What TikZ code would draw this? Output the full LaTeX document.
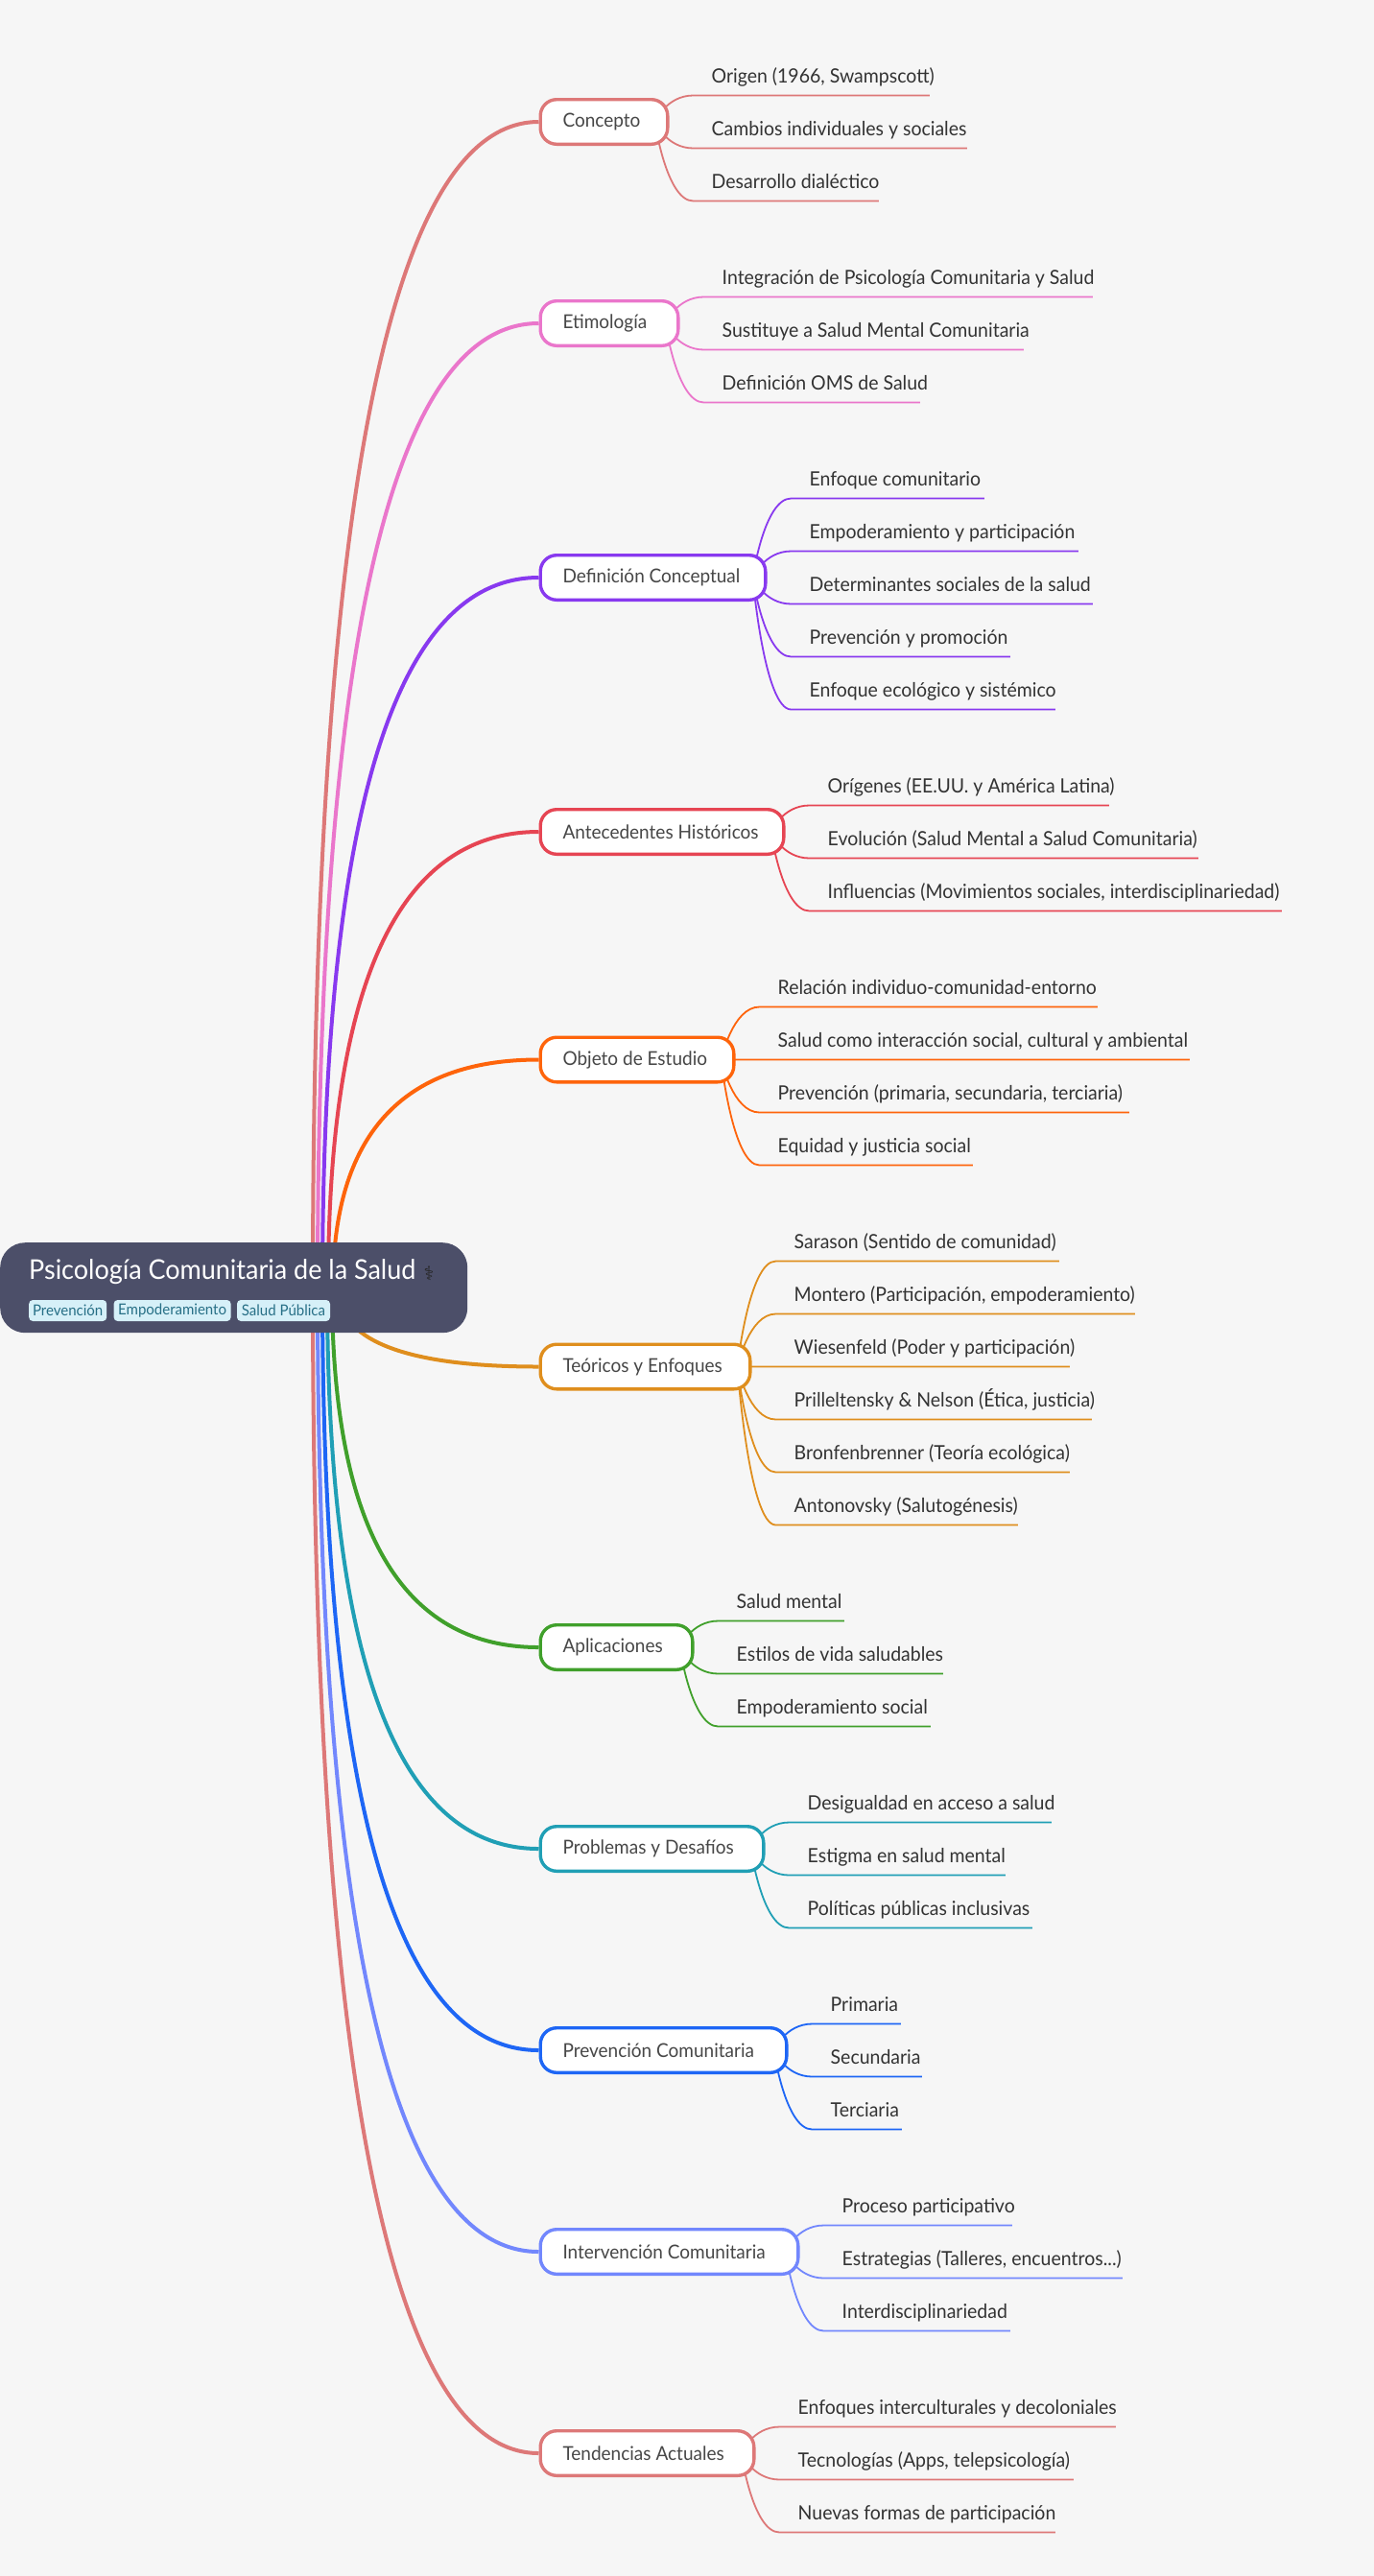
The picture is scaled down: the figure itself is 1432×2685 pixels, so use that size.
\documentclass[tikz,border=0pt]{standalone}
\usepackage{xcolor}
\usepackage{fontspec}
\setmainfont[FakeStretch=0.95]{Lato}
\newfontfamily\symfont{DejaVu Sans}
\usetikzlibrary{positioning, calc, backgrounds}
\definecolor{pagebg}{HTML}{F6F6F6}
\definecolor{rootbg}{HTML}{4C4F69}
\definecolor{tagbg}{HTML}{D6F0F8}
\definecolor{tagtext}{HTML}{276F86}
\definecolor{flamingo}{HTML}{DD7878}
\definecolor{pink}{HTML}{EA76CB}
\definecolor{mauve}{HTML}{8839EF}
\definecolor{maroon}{HTML}{E64553}
\definecolor{peach}{HTML}{FE640B}
\definecolor{amber}{HTML}{DF8E1D}
\definecolor{leafgreen}{HTML}{40A02B}
\definecolor{sapphire}{HTML}{209FB5}
\definecolor{royal}{HTML}{1E66F5}
\definecolor{lavender}{HTML}{7287FD}
\tikzset{
  rootbox/.style={fill=rootbg, rounded corners=26pt, inner sep=0pt, minimum width=487pt, minimum height=94pt},
  tagbox/.style={fill=tagbg, text=tagtext, rounded corners=4pt, inner sep=0pt, minimum height=22pt, font=\fontsize{15.8}{18}\selectfont},
  branchbox/.style={draw=#1, fill=white, text=black!72, line width=3.4pt, rounded corners=17pt, inner sep=0pt, minimum height=46.6pt, font=\fontsize{20}{24}\selectfont},
  leafbox/.style={inner sep=0pt, text=black!80, text depth=13.2pt, font=\fontsize{20.5}{24}\selectfont},
  trunk/.style={draw=#1, line width=4pt},
  twig/.style={draw=#1, line width=1.8pt}
}
% one main branch: name, label, colour, centre y, width, start x on the root, leaves
\newcommand{\branch}[7]{
  \node[branchbox=#3, anchor=west] (#1) at (561.5,#4) {\makebox[\dimexpr#5pt-3.4pt\relax][l]{\hspace{23.3pt}#2}};
  \coordinate (#1s) at ([xshift=#6pt]root.west);
  \begin{scope}[on background layer]
    \draw[trunk=#3] (#1s) .. controls ($(#1s)!.667!(#1s|-#1.west)$) and ($(#1.west)!.667!(#1s|-#1.west)$) .. (#1.west);
  \end{scope}
  \coordinate (#1h) at ([xshift=-15pt]#1.east);
  \foreach \d/\w/\t [count=\i] in {#7} {
    \node[leafbox, anchor=south west] (#1\i) at ($(#1.east)+(25,\d)$) {\makebox[\w pt][l]{\hspace{19pt}\t}};
    \begin{scope}[on background layer]
      \draw[twig=#3] (#1h) .. controls (#1h) and ($(#1\i.south west)!.7!(#1h|-#1\i.south west)$) .. (#1\i.south west) -- (#1\i.south east);
    \end{scope}
  }
}
\begin{document}
\begin{tikzpicture}[x=1pt, y=-1pt]
  \useasboundingbox (0,0) rectangle (1432,2685);
  \begin{scope}[on background layer]
    \fill[pagebg] (0,0) rectangle (1432,2685);
  \end{scope}

  % Root
  \node[rootbox, anchor=north west] (root) at (0,1295) {};
  \node[anchor=base west, inner sep=0pt, text=white, font=\fontsize{28.4}{32}\selectfont] (title) at (30,1333) {Psicología Comunitaria de la Salud};
  \node[anchor=center, inner sep=0pt, text=black!85, font=\symfont\fontsize{20}{24}\selectfont] (icon) at (447,1327) {⚕};
  \node[tagbox, anchor=west, minimum width=81pt] (tagA) at (30,1366) {Prevención};
  \node[tagbox, right=7pt of tagA, minimum width=122pt] (tagB) {Empoderamiento};
  \node[tagbox, right=6pt of tagB, minimum width=97pt] (tagC) {Salud Pública};

  % Branches
  \branch{concepto}{Concepto}{flamingo}{127}{136}{326}{
    -27.5/246/{Origen (1966, Swampscott)},
    27.5/285/{Cambios individuales y sociales},
    82.5/193/{Desarrollo dialéctico}}
  \branch{etimologia}{Etimología}{pink}{337}{147}{331}{
    -27.5/405/{Integración de Psicología Comunitaria y Salud},
    27.5/333/{Sustituye a Salud Mental Comunitaria},
    82.5/225/{Definición OMS de Salud}}
  \branch{definicion}{Definición Conceptual}{mauve}{602}{238}{336}{
    -82.5/201/{Enfoque comunitario},
    -27.5/299/{Empoderamiento y participación},
    27.5/314/{Determinantes sociales de la salud},
    82.5/228/{Prevención y promoción},
    137.5/275/{Enfoque ecológico y sistémico}}
  \branch{antecedentes}{Antecedentes Históricos}{maroon}{867}{257}{342}{
    -27.5/312/{Orígenes (EE.UU. y América Latina)},
    27.5/405/{Evolución (Salud Mental a Salud Comunitaria)},
    82.5/492/{Influencias (Movimientos sociales, interdisciplinariedad)}}
  \branch{objeto}{Objeto de Estudio}{peach}{1104.5}{205}{347}{
    -55/352/{Relación individuo-comunidad-entorno},
    0/448/{Salud como interacción social, cultural y ambiental},
    55/385/{Prevención (primaria, secundaria, terciaria)},
    110/222/{Equidad y justicia social}}
  \branch{teoricos}{Teóricos y Enfoques}{amber}{1424.5}{222}{352}{
    -110/295/{Sarason (Sentido de comunidad)},
    -55/374/{Montero (Participación, empoderamiento)},
    0/306/{Wiesenfeld (Poder y participación)},
    55/329/{Prilleltensky \& Nelson (Ética, justicia)},
    110/306/{Bronfenbrenner (Teoría ecológica)},
    165/252/{Antonovsky (Salutogénesis)}}
  \branch{aplicaciones}{Aplicaciones}{leafgreen}{1717}{162}{346}{
    -27.5/131/{Salud mental},
    27.5/234/{Estilos de vida saludables},
    82.5/221/{Empoderamiento social}}
  \branch{problemas}{Problemas y Desafíos}{sapphire}{1927}{236}{341}{
    -27.5/273/{Desigualdad en acceso a salud},
    27.5/225/{Estigma en salud mental},
    82.5/253/{Políticas públicas inclusivas}}
  \branch{prevencion}{Prevención Comunitaria}{royal}{2137}{260}{336}{
    -27.5/92/{Primaria},
    27.5/114/{Secundaria},
    82.5/93/{Terciaria}}
  \branch{intervencion}{Intervención Comunitaria}{lavender}{2347}{272}{331}{
    -27.5/196/{Proceso participativo},
    27.5/311/{Estrategias (Talleres, encuentros...)},
    82.5/194/{Interdisciplinariedad}}
  \branch{tendencias}{Tendencias Actuales}{flamingo}{2557}{226}{326}{
    -27.5/350/{Enfoques interculturales y decoloniales},
    27.5/306/{Tecnologías (Apps, telepsicología)},
    82.5/287/{Nuevas formas de participación}}
\end{tikzpicture}
\end{document}
